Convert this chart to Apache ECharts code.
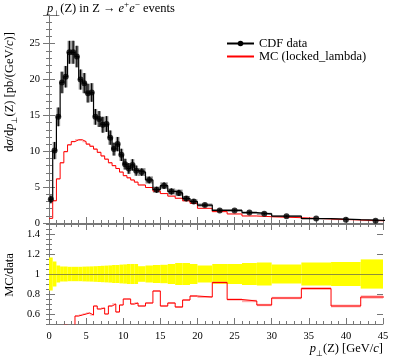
<!DOCTYPE html>
<html><head><meta charset="utf-8">
<script src="https://cdn.jsdelivr.net/npm/echarts@6/dist/echarts.min.js"></script>
<style>html,body{margin:0;padding:0;background:#fff}#c{width:397px;height:358px}</style>
</head><body><div id="c"></div>
<script>
// ---- data ----
const binEdges = [0,0.5,1,1.5,2,2.5,3,3.5,4,4.5,5,5.5,6,6.5,7,7.5,8,8.5,9,9.5,10,10.5,11,11.5,12,
  13,14,15,16,17,18,19,20,22,24,26,28,30,34,38,42,46];
const dataValues = [3.3,10.1,14.8,19.6,20.4,23.8,23.8,23.2,20.0,19.5,18.1,18.2,14.8,14.5,13.7,13.8,11.9,10.3,11.0,9.5,8.2,7.6,8.1,7.3,
  7.1,6.0,4.65,5.2,4.4,4.2,3.4,3.0,2.5,1.75,1.75,1.45,1.28,0.95,0.62,0.47,0.33];
const dataErrors = [0.55,1.2,1.3,1.5,1.5,1.6,1.6,1.5,1.4,1.4,1.3,1.3,1.1,1.1,1.1,1.1,1.0,0.9,1.0,0.85,0.75,0.75,0.8,0.7,
  0.55,0.5,0.42,0.47,0.42,0.45,0.37,0.3,0.22,0.17,0.17,0.16,0.15,0.09,0.07,0.056,0.048];
const mcValues = [0.65,3.1,6.15,8.4,9.95,10.9,11.35,11.6,11.6,11.35,11.0,10.7,10.3,9.85,9.35,8.9,8.4,8.0,7.6,7.1,6.6,6.3,6.0,5.7,
  5.3,4.95,4.45,4.1,3.75,3.45,3.1,2.75,2.05,1.58,1.26,0.98,0.88,0.74,0.56,0.42,0.28];
const mcErrors = [0.04,0.07,0.09,0.1,0.1,0.1,0.1,0.1,0.1,0.1,0.1,0.1,0.1,0.1,0.09,0.09,0.09,0.09,0.08,0.08,0.08,0.08,0.08,0.07,
  0.07,0.07,0.06,0.06,0.06,0.05,0.05,0.05,0.04,0.04,0.03,0.03,0.03,0.03,0.02,0.02,0.02];
const ratioValues = [0.2,0.31,0.42,0.43,0.49,0.46,0.48,0.58,0.59,0.60,0.61,0.59,0.68,0.65,0.66,0.60,0.68,0.70,0.62,0.69,0.75,0.75,0.70,0.71,
  0.68,0.71,0.83,0.68,0.71,0.67,0.74,0.78,0.77,0.915,0.745,0.73,0.69,0.76,0.855,0.68,0.77];
const ratioBandErrors = [0.165,0.125,0.085,0.075,0.075,0.072,0.072,0.072,0.072,0.074,0.075,0.076,0.078,0.08,0.082,0.084,0.086,0.09,0.09,0.094,0.096,0.1,0.1,0.1,
  0.078,0.085,0.09,0.092,0.1,0.11,0.11,0.1,0.085,0.1,0.1,0.11,0.115,0.095,0.115,0.12,0.146];
const ratioMcErrors = [0.005,0.005,0.005,0.005,0.005,0.005,0.005,0.006,0.006,0.006,0.006,0.006,0.006,0.006,0.006,0.006,0.007,0.007,0.007,0.007,0.007,0.007,0.008,0.008,
  0.008,0.008,0.009,0.009,0.009,0.01,0.01,0.01,0.01,0.011,0.011,0.012,0.012,0.012,0.014,0.014,0.016];
const xTickLabels = [0,5,10,15,20,25,30,35,40,45];
const mainYTickLabels = [0,5,10,15,20,25];
const ratioYTickLabels = [0.6,0.8,1,1.2,1.4];

// ---- build series data from the arrays ----
function stepPoints(vals){
  const pts=[];
  vals.forEach((v,i)=>{pts.push([binEdges[i],v]);pts.push([binEdges[i+1],v]);});
  return pts;
}
function bandRects(vals,errs){
  return vals.map((v,i)=>[binEdges[i],binEdges[i+1],v-errs[i],v+errs[i]]);
}
const centers = dataValues.map((v,i)=>(binEdges[i]+binEdges[i+1])/2);
const dataPoints = dataValues.map((v,i)=>[centers[i],v]);
const dataBars = dataValues.map((v,i)=>[centers[i],v-dataErrors[i],v+dataErrors[i]]);
const ratioBand = ratioBandErrors.map((e,i)=>[binEdges[i],binEdges[i+1],1-e,1+e]);

function rectRender(fill){
  return function(params,api){
    const a=api.coord([api.value(0),api.value(2)]);
    const b=api.coord([api.value(1),api.value(3)]);
    const cs=params.coordSys;
    const r=echarts.graphic.clipRectByRect({x:a[0],y:b[1],width:b[0]-a[0],height:a[1]-b[1]},
      {x:cs.x,y:cs.y,width:cs.width,height:cs.height});
    if(!r) return;
    return {type:'rect',shape:r,style:{fill:fill}};
  };
}
function barRender(params,api){
  const a=api.coord([api.value(0),api.value(1)]);
  const b=api.coord([api.value(0),api.value(2)]);
  return {type:'line',shape:{x1:a[0],y1:a[1],x2:b[0],y2:b[1]},style:{stroke:'#000',lineWidth:1.2}};
}

const FONT='Liberation Serif';
const AX='#777';
function xAx(grid,pos,labels){
  return {type:'value',gridIndex:grid,position:pos,min:0,max:45,interval:5,
    axisLine:{show:true,lineStyle:{color:AX,width:1}},
    axisTick:{show:true,inside:true,length:6,lineStyle:{color:AX}},
    minorTick:{show:true,splitNumber:5,length:3,lineStyle:{color:AX}},
    splitLine:{show:false},
    axisLabel:{show:labels,color:'#000',fontFamily:FONT,fontSize:10.5,margin:7}};
}
function yMain(pos,labels){
  return {type:'value',gridIndex:0,position:pos,min:0,max:29,interval:5,
    axisLine:{show:true,lineStyle:{color:AX,width:1}},
    axisTick:{show:true,inside:true,length:6,lineStyle:{color:AX}},
    minorTick:{show:true,splitNumber:5,length:3,lineStyle:{color:AX}},
    splitLine:{show:false},
    axisLabel:{show:labels,color:'#000',fontFamily:FONT,fontSize:10.5,margin:9,
      customValues:mainYTickLabels}};
}
function yRatioMinor(pos,labels){
  return {type:'value',gridIndex:1,position:pos,min:0.5,max:1.5,interval:0.05,
    axisLine:{show:true,lineStyle:{color:AX,width:1}},
    axisTick:{show:true,inside:true,length:3,lineStyle:{color:AX}},
    splitLine:{show:false},
    axisLabel:{show:labels,color:'#000',fontFamily:FONT,fontSize:10.5,margin:9,
      customValues:ratioYTickLabels,formatter:v=>String(+v.toFixed(1))}};
}
function yRatioMajor(pos){
  return {type:'value',gridIndex:1,position:pos,min:0.5,max:1.5,interval:0.05,
    axisLine:{show:false},
    axisTick:{show:true,inside:true,length:6,lineStyle:{color:AX},customValues:ratioYTickLabels},
    splitLine:{show:false},axisLabel:{show:false}};
}

const FS=12.5;
const richBase={
  n:{fontFamily:FONT,fontSize:FS,color:'#000',lineHeight:18},
  i:{fontFamily:FONT,fontSize:FS,fontStyle:'italic',color:'#000',lineHeight:18},
  sub:{fontFamily:'DejaVu Sans',fontSize:8,color:'#000',lineHeight:9,verticalAlign:'bottom'},
  sup:{fontFamily:FONT,fontSize:9,color:'#000',lineHeight:9,verticalAlign:'top'}
};

const chart=echarts.init(document.getElementById('c'),null,{renderer:'canvas'});
chart.setOption({
  animation:false,
  backgroundColor:'#fff',
  grid:[{left:49,right:14,top:15,height:208},{left:49,right:14,top:224,height:100}],
  xAxis:[xAx(0,'bottom',false),xAx(0,'top',false),xAx(1,'bottom',true),xAx(1,'top',false)],
  yAxis:[yMain('left',true),yMain('right',false),yRatioMinor('left',true),yRatioMinor('right',false),
    yRatioMajor('left'),yRatioMajor('right')],
  legend:{left:226,top:37,padding:0,orient:'vertical',itemWidth:27,itemHeight:7,itemGap:0,
    data:[{name:'CDF data'},{name:'MC (locked_lambda)',itemStyle:{opacity:0}}],
    textStyle:{fontFamily:FONT,fontSize:FS,color:'#000'}},
  graphic:[
    {type:'text',left:47,top:0,style:{text:'{i|p}{sub|⊥}{n|(Z) in Z → }{i|e}{sup|+}{i|e}{sup|−}{n| events}',rich:richBase}},
    {type:'text',x:10,y:92,rotation:Math.PI/2,style:{text:'{n|d}{i|σ}{n|/d}{i|p}{sub|⊥}{n|(Z) [pb/(GeV/}{i|c}{n|)]}',rich:richBase,align:'center',verticalAlign:'middle'}},
    {type:'text',x:10,y:275,rotation:Math.PI/2,style:{text:'{n|MC/data}',rich:richBase,align:'center',verticalAlign:'middle'}},
    {type:'text',x:383,y:349,style:{text:'{i|p}{sub|⊥}{n|(Z) [GeV/}{i|c}{n|]}',rich:richBase,align:'right',verticalAlign:'middle'}}
  ],
  series:[
    {type:'custom',name:'data band',xAxisIndex:0,yAxisIndex:0,data:bandRects(dataValues,dataErrors),
      renderItem:rectRender('rgba(110,110,110,0.75)'),z:1,silent:true},
    {type:'custom',name:'mc band',xAxisIndex:0,yAxisIndex:0,data:bandRects(mcValues,mcErrors),
      renderItem:rectRender('rgba(255,120,120,0.6)'),z:1,silent:true},
    {type:'line',name:'MC (locked_lambda)',xAxisIndex:0,yAxisIndex:0,data:stepPoints(mcValues),
      symbol:'none',lineStyle:{color:'#ff0000',width:1},itemStyle:{color:'#ff0000'},z:3,clip:true},
    {type:'line',name:'CDF data',xAxisIndex:0,yAxisIndex:0,data:stepPoints(dataValues),
      symbol:'circle',symbolSize:6,showSymbol:false,lineStyle:{color:'#000',width:1.2},itemStyle:{color:'#000'},z:4,clip:true},
    {type:'custom',name:'data err',xAxisIndex:0,yAxisIndex:0,data:dataBars,renderItem:barRender,z:5,silent:true},
    {type:'scatter',name:'data pts',xAxisIndex:0,yAxisIndex:0,data:dataPoints,symbol:'circle',symbolSize:6,
      itemStyle:{color:'#000'},z:6,silent:true,clip:true},
    // ratio panel
    {type:'custom',name:'ratio band',xAxisIndex:2,yAxisIndex:2,data:ratioBand,
      renderItem:rectRender('#ffff00'),z:1,silent:true},
    {type:'line',name:'ratio one',xAxisIndex:2,yAxisIndex:2,data:[],symbol:'none',
      markLine:{silent:true,symbol:'none',label:{show:false},lineStyle:{color:'#8f8f3a',width:1,type:'solid'},data:[{yAxis:1}]},z:2},
    {type:'custom',name:'ratio mc band',xAxisIndex:2,yAxisIndex:2,data:bandRects(ratioValues,ratioMcErrors),
      renderItem:rectRender('rgba(255,120,120,0.6)'),z:2,silent:true},
    {type:'line',name:'ratio mc',xAxisIndex:2,yAxisIndex:2,data:stepPoints(ratioValues),
      symbol:'none',lineStyle:{color:'#ff0000',width:1},z:3,clip:true}
  ]
});
</script></body></html>
